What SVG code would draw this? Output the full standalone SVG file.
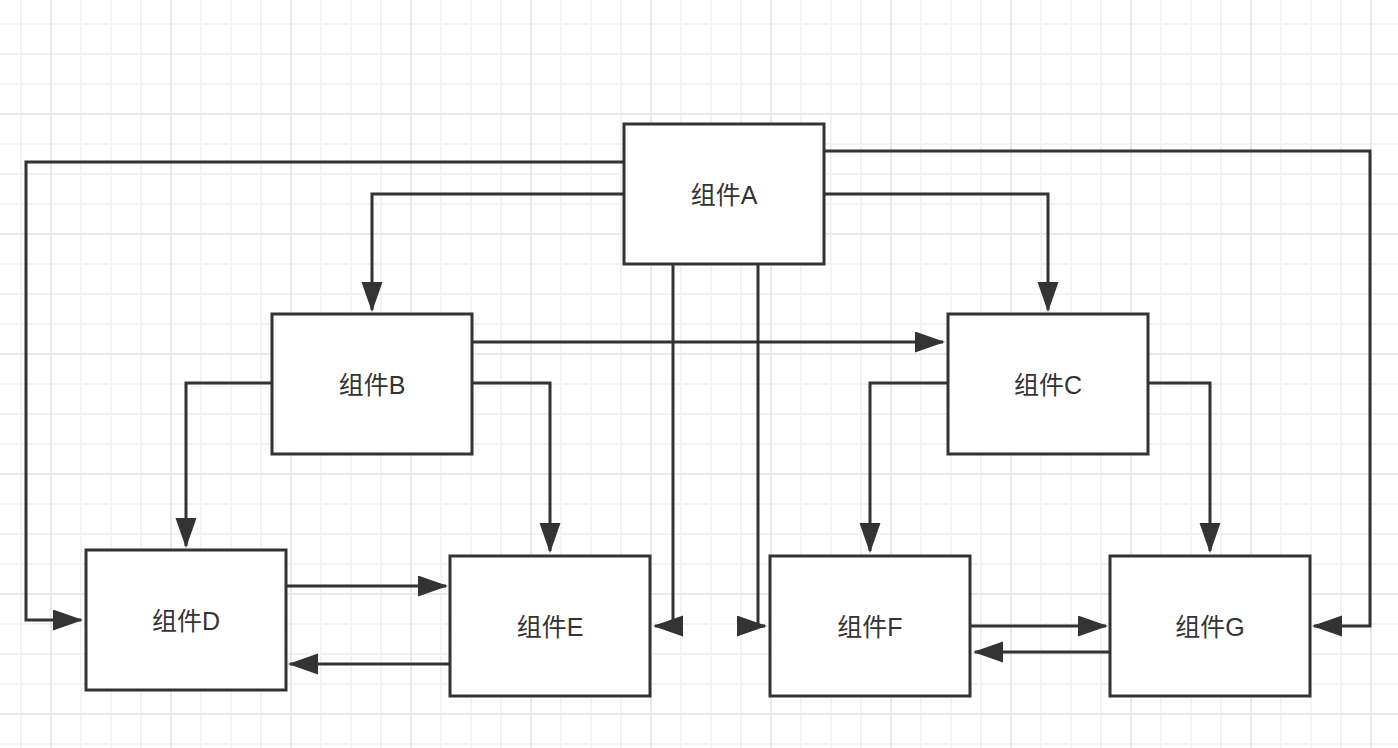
<svg xmlns="http://www.w3.org/2000/svg" width="1398" height="748" viewBox="0 0 1398 748">
<style>
.box{fill:#ffffff;stroke:#333333;stroke-width:3}
.lbl{font-family:"Liberation Sans","Noto Sans CJK SC",sans-serif;font-size:25px;fill:#333333;text-anchor:middle;dominant-baseline:central}
.edge{fill:none;stroke:#333333;stroke-width:3;marker-end:url(#arr)}
</style>
<defs>
<pattern id="minor" patternUnits="userSpaceOnUse" x="6" y="9" width="30" height="30">
<path d="M15,0V30M0,15H30" stroke="#f3f3f3" stroke-width="2" fill="none"/>
</pattern>
<pattern id="major" patternUnits="userSpaceOnUse" x="-9" y="54" width="120" height="120">
<path d="M60,0V120M0,60H120" stroke="#e9e9e9" stroke-width="2" fill="none"/>
</pattern>
<marker id="arr" markerUnits="userSpaceOnUse" markerWidth="31" markerHeight="22" refX="28" refY="10.5" orient="auto">
<path d="M0,0L30,10.5L0,21Z" fill="#333333"/>
</marker>
</defs>
<rect width="1398" height="748" fill="#ffffff"/>
<rect width="1398" height="748" fill="url(#minor)"/>
<rect width="1398" height="748" fill="url(#major)"/>
<g id="connectors">
<path class="edge" d="M624,162H26V620H81"/>
<path class="edge" d="M624,194H372V310"/>
<path class="edge" d="M824,194H1048V310"/>
<path class="edge" d="M824,151H1370V626H1314"/>
<path class="edge" d="M673,264V626M683,626H655"/>
<path class="edge" d="M758,264V626M738,626H765"/>
<path class="edge" d="M472,342H943"/>
<path class="edge" d="M272,383H186V546"/>
<path class="edge" d="M472,383H550V551"/>
<path class="edge" d="M948,383H870V551"/>
<path class="edge" d="M1148,383H1210V551"/>
<path class="edge" d="M286,586H446"/>
<path class="edge" d="M450,664H290"/>
<path class="edge" d="M970,626H1106"/>
<path class="edge" d="M1110,652H975"/>
</g>
<g id="nodeA"><rect class="box" x="624" y="124" width="200" height="140"/><text class="lbl" x="724" y="195">组件A</text></g>
<g id="nodeB"><rect class="box" x="272" y="314" width="200" height="140"/><text class="lbl" x="372" y="385">组件B</text></g>
<g id="nodeC"><rect class="box" x="948" y="314" width="200" height="140"/><text class="lbl" x="1048" y="385">组件C</text></g>
<g id="nodeD"><rect class="box" x="86" y="550" width="200" height="140"/><text class="lbl" x="186" y="621">组件D</text></g>
<g id="nodeE"><rect class="box" x="450" y="556" width="200" height="140"/><text class="lbl" x="550" y="627">组件E</text></g>
<g id="nodeF"><rect class="box" x="770" y="556" width="200" height="140"/><text class="lbl" x="870" y="627">组件F</text></g>
<g id="nodeG"><rect class="box" x="1110" y="556" width="200" height="140"/><text class="lbl" x="1210" y="627">组件G</text></g>
</svg>
